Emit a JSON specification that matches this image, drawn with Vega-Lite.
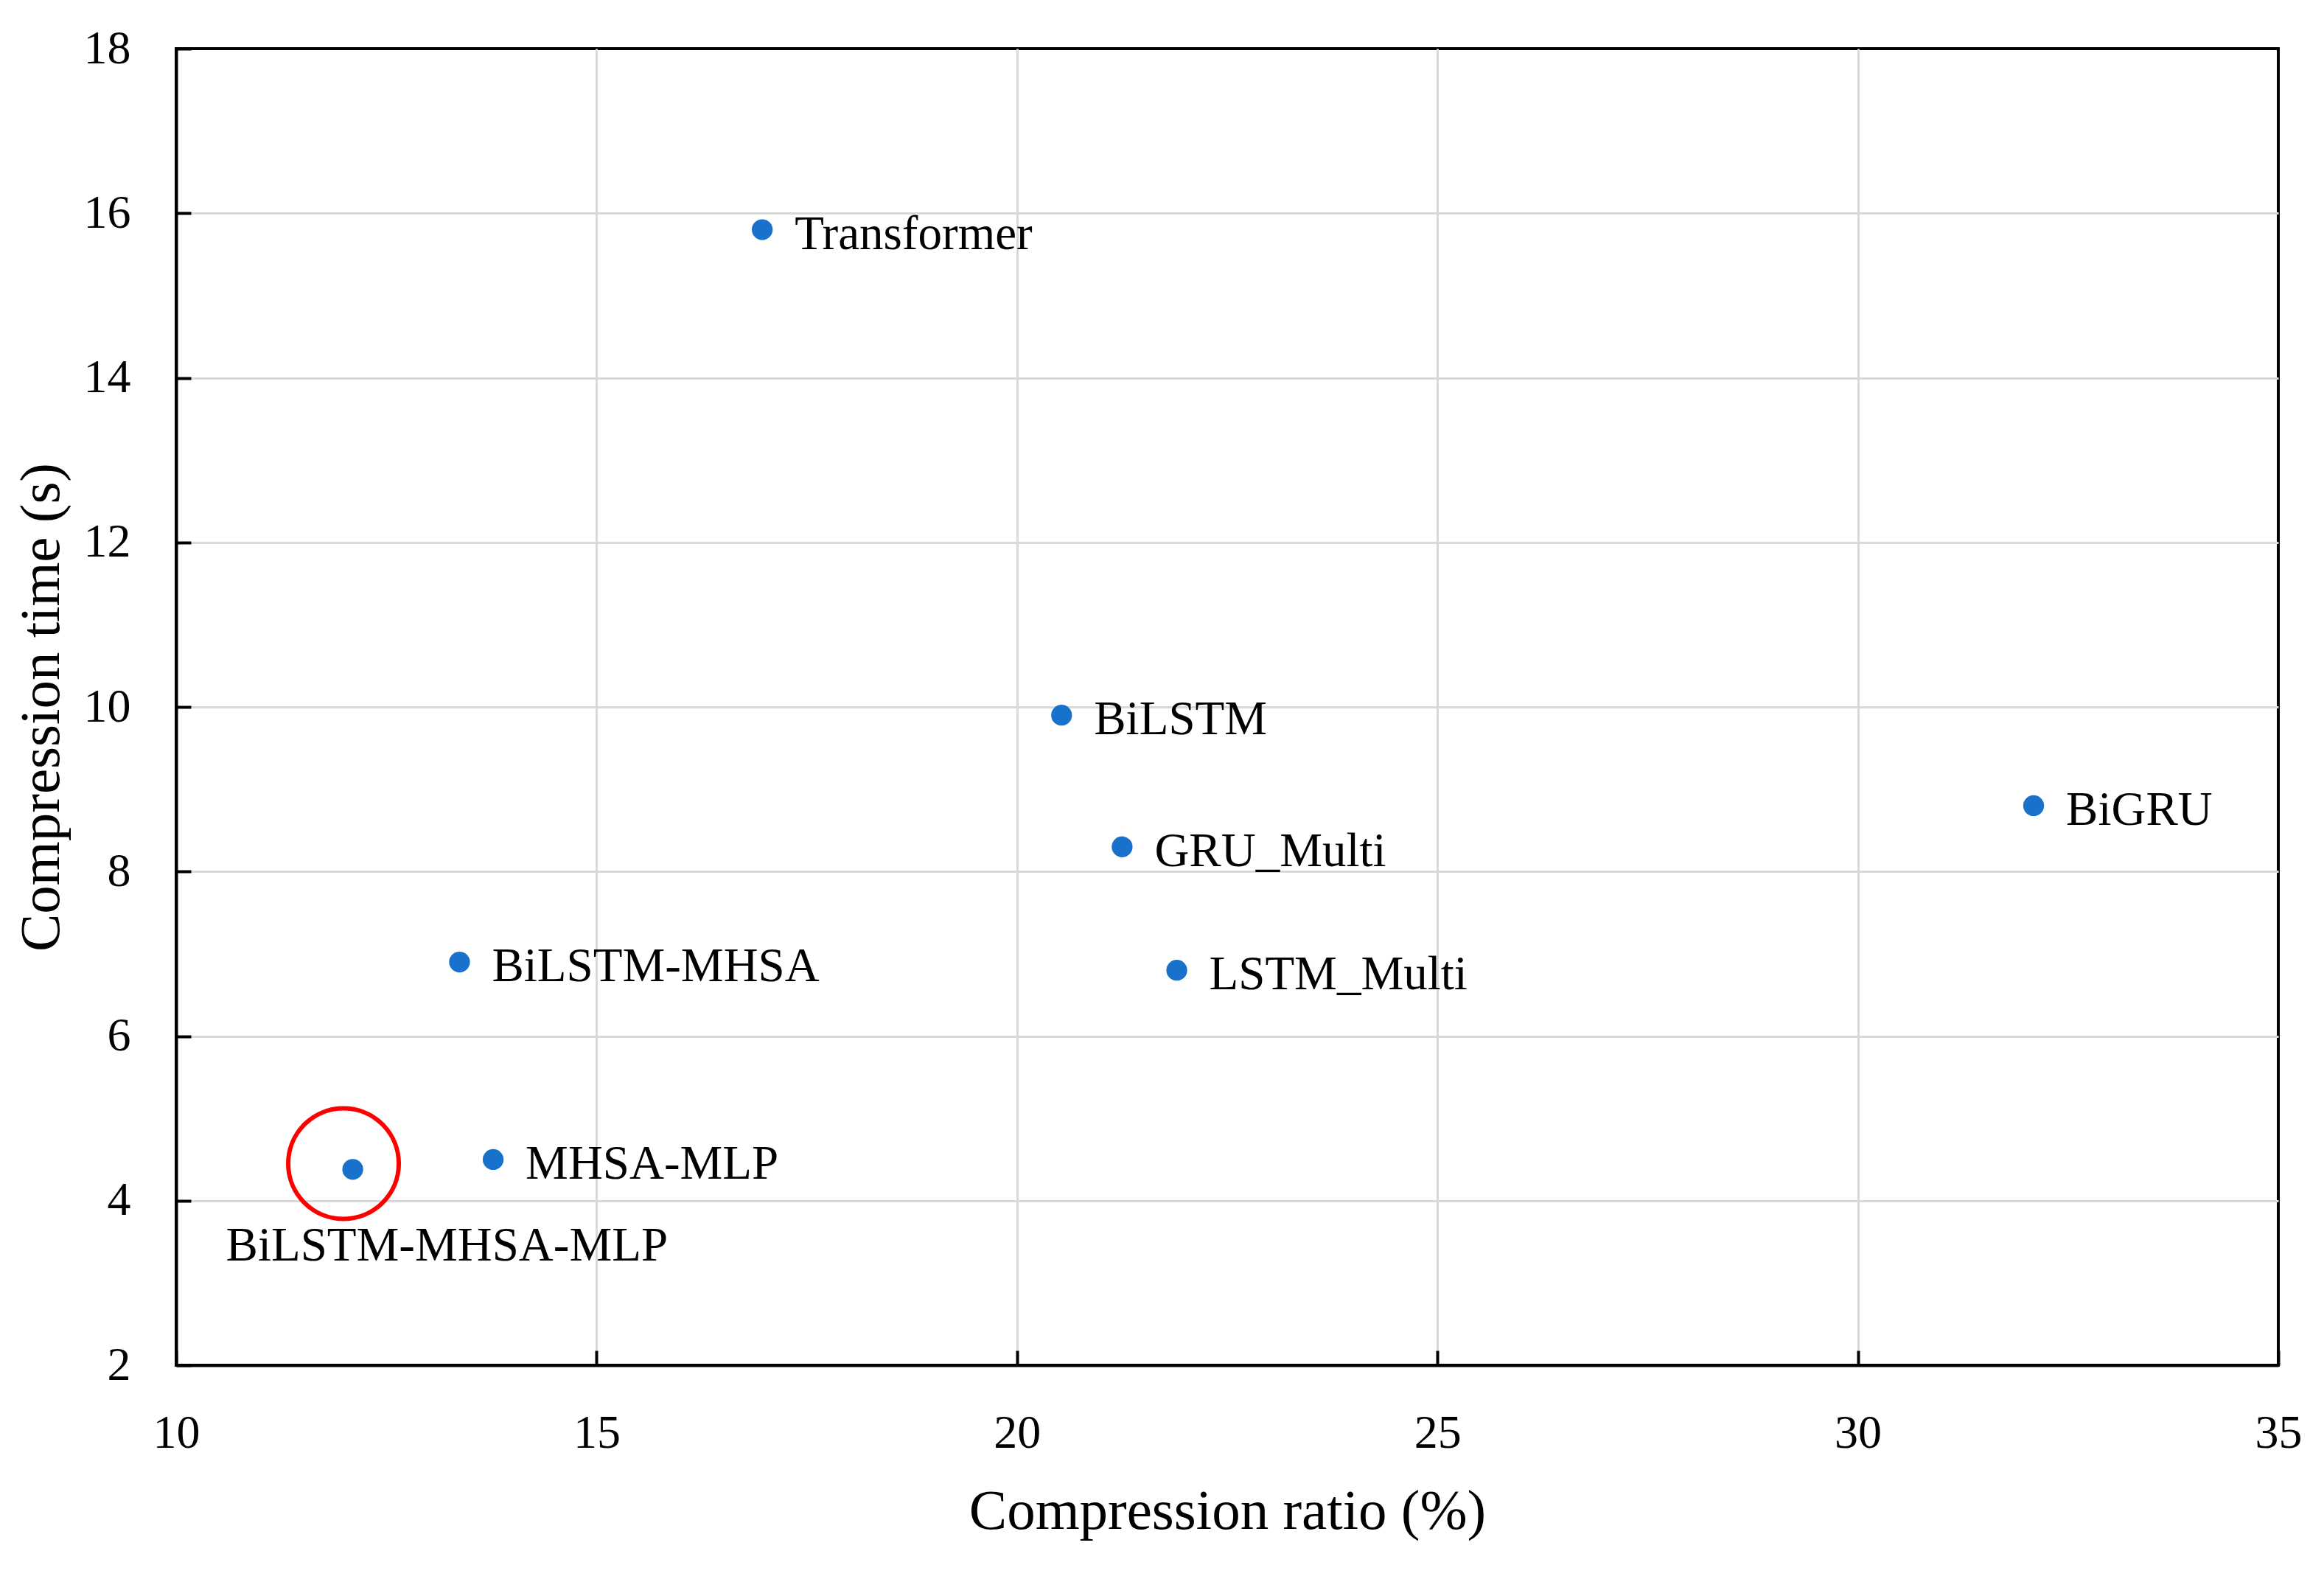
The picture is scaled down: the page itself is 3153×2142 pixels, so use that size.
{
  "$schema": "https://vega.github.io/schema/vega-lite/v6.json",
  "autosize": {"type": "none"},
  "width": 2852,
  "height": 1786,
  "padding": {"left": 239, "top": 66, "right": 62, "bottom": 290},
  "background": "white",
  "config": {
    "view": {"stroke": "#000000", "strokeWidth": 4},
    "font": "Liberation Serif",
    "axis": {
      "grid": true,
      "gridColor": "#d9d9d9",
      "gridWidth": 3,
      "domainColor": "#000000",
      "domainWidth": 4,
      "tickColor": "#000000",
      "tickWidth": 4,
      "tickSize": -20,
      "labelFont": "Liberation Serif",
      "labelFontSize": 64,
      "labelColor": "#000000",
      "titleFont": "Liberation Serif",
      "titleFontSize": 77,
      "titleFontWeight": "normal",
      "titleColor": "#000000"
    }
  },
  "datasets": {
    "models": [
      {"model": "Transformer", "ratio": 16.97, "time": 15.8},
      {"model": "BiLSTM", "ratio": 20.53, "time": 9.9},
      {"model": "GRU_Multi", "ratio": 21.25, "time": 8.3},
      {"model": "LSTM_Multi", "ratio": 21.9, "time": 6.8},
      {"model": "BiGRU", "ratio": 32.09, "time": 8.8},
      {"model": "BiLSTM-MHSA", "ratio": 13.37, "time": 6.9},
      {"model": "MHSA-MLP", "ratio": 13.77, "time": 4.5},
      {"model": "BiLSTM-MHSA-MLP", "ratio": 12.1, "time": 4.38}
    ],
    "highlight": [
      {"model": "BiLSTM-MHSA-MLP", "ratio": 11.99, "time": 4.45}
    ]
  },
  "layer": [
    {
      "data": {"name": "models"},
      "mark": {"type": "point", "filled": true, "shape": "circle", "size": 800, "color": "#1872CC", "opacity": 1},
      "encoding": {
        "x": {
          "field": "ratio", "type": "quantitative",
          "scale": {"domain": [10, 35], "nice": false, "zero": false},
          "axis": {
            "title": "Compression ratio (%)", "format": "d",
            "values": [10, 15, 20, 25, 30, 35],
            "labelPadding": 80, "titlePadding": 36, "labelFlush": false,
            "gridOpacity": {"condition": {"test": "datum.value === 10 || datum.value === 35", "value": 0}, "value": 1}
          }
        },
        "y": {
          "field": "time", "type": "quantitative",
          "scale": {"domain": [2, 18], "nice": false, "zero": false},
          "axis": {
            "title": "Compression time (s)", "format": "d",
            "values": [2, 4, 6, 8, 10, 12, 14, 16, 18],
            "labelPadding": 82, "titlePadding": 18, "labelFlush": false,
            "gridOpacity": {"condition": {"test": "datum.value === 2 || datum.value === 18", "value": 0}, "value": 1}
          }
        }
      }
    },
    {
      "data": {"name": "models"},
      "transform": [{"filter": "datum.model !== 'BiLSTM-MHSA-MLP'"}],
      "mark": {"type": "text", "align": "left", "baseline": "middle", "dx": 44, "dy": 6, "fontSize": 65, "font": "Liberation Serif", "color": "#000000"},
      "encoding": {
        "x": {"field": "ratio", "type": "quantitative"},
        "y": {"field": "time", "type": "quantitative"},
        "text": {"field": "model"}
      }
    },
    {
      "data": {"name": "models"},
      "transform": [{"filter": "datum.model === 'BiLSTM-MHSA-MLP'"}],
      "mark": {"type": "text", "align": "left", "baseline": "middle", "dx": -172, "dy": 104, "fontSize": 65, "font": "Liberation Serif", "color": "#000000"},
      "encoding": {
        "x": {"field": "ratio", "type": "quantitative"},
        "y": {"field": "time", "type": "quantitative"},
        "text": {"field": "model"}
      }
    },
    {
      "data": {"name": "highlight"},
      "mark": {"type": "point", "shape": "circle", "filled": false, "size": 22500, "stroke": "#ff0000", "strokeWidth": 6, "opacity": 1},
      "encoding": {
        "x": {"field": "ratio", "type": "quantitative"},
        "y": {"field": "time", "type": "quantitative"}
      }
    }
  ]
}
